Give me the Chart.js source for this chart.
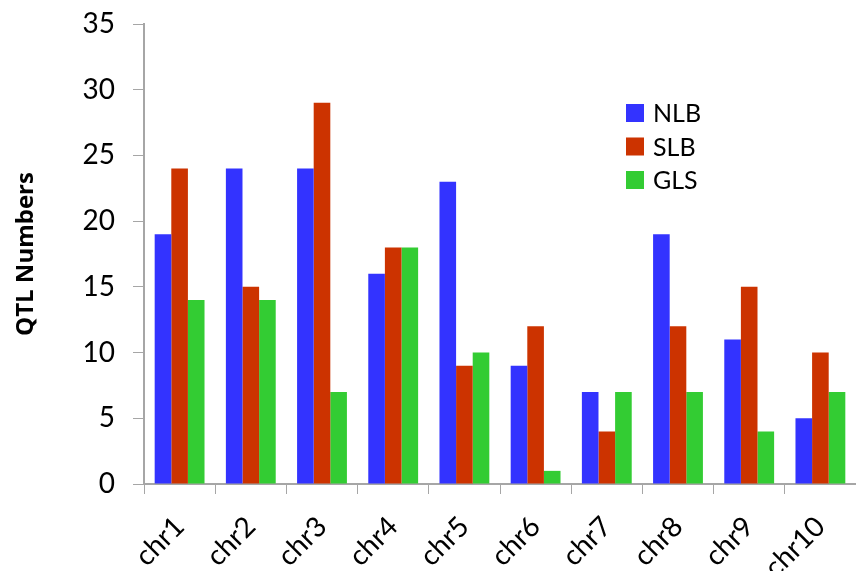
<!DOCTYPE html>
<html>
<head>
<meta charset="utf-8">
<script src="https://cdn.jsdelivr.net/npm/chart.js@4.4.1/dist/chart.umd.min.js"></script>
<style>
  html, body { margin: 0; padding: 0; background: #ffffff; }
  #wrap { width: 856px; height: 571px; position: relative; }
</style>
</head>
<body>
<div id="wrap"><canvas id="chart" width="856" height="571"></canvas></div>
<script>
// QTL counts per chromosome for three leaf diseases
const chromosomes = ['chr1', 'chr2', 'chr3', 'chr4', 'chr5', 'chr6', 'chr7', 'chr8', 'chr9', 'chr10'];
const nlbCounts = [19, 24, 24, 16, 23, 9, 7, 19, 11, 5];
const slbCounts = [24, 15, 29, 18, 9, 12, 4, 12, 15, 10];
const glsCounts = [14, 14, 7, 18, 10, 1, 7, 7, 4, 7];
const yTicks = [0, 5, 10, 15, 20, 25, 30, 35];

const axisGray = '#a6a6a6';

// Legend drawn as a vertical list inside the plot
const insideLegend = {
  id: 'insideLegend',
  afterDraw(chart) {
    const ctx = chart.ctx;
    const x0 = 626, y0 = 113, gap = 33.5, box = 18;
    ctx.save();
    ctx.font = '25px Lato';
    ctx.textBaseline = 'middle';
    ctx.textAlign = 'left';
    chart.data.datasets.forEach((ds, i) => {
      const y = y0 + i * gap;
      ctx.fillStyle = ds.backgroundColor;
      ctx.fillRect(x0, y - box / 2, box, box);
      ctx.fillStyle = '#000000';
      ctx.fillText(ds.label, x0 + 27, y + 1);
    });
    ctx.restore();
  }
};

new Chart(document.getElementById('chart'), {
  type: 'bar',
  data: {
    labels: chromosomes,
    datasets: [
      { label: 'NLB', data: nlbCounts, backgroundColor: '#3333ff' },
      { label: 'SLB', data: slbCounts, backgroundColor: '#cc3300' },
      { label: 'GLS', data: glsCounts, backgroundColor: '#33cc33' }
    ]
  },
  options: {
    responsive: false,
    animation: false,
    devicePixelRatio: 1,
    layout: { padding: { top: 24, right: -4, left: 0, bottom: 0 } },
    datasets: { bar: { categoryPercentage: 0.7, barPercentage: 1.0 } },
    plugins: { legend: { display: false }, tooltip: { enabled: false } },
    scales: {
      x: {
        grid: { display: true, drawOnChartArea: false, drawTicks: true, tickLength: 10, color: axisGray, offset: true },
        border: { display: true, color: axisGray, width: 2 },
        ticks: { color: '#000000', font: { family: 'Lato', size: 28 }, minRotation: 45, maxRotation: 45, padding: 16, autoSkip: false },
        afterFit(scale) { scale.height = 87; scale.paddingLeft = 0; scale.paddingRight = 0; }
      },
      y: {
        min: 0,
        max: 35,
        afterBuildTicks(scale) { scale.ticks = yTicks.map(v => ({ value: v })); },
        grid: { display: true, drawOnChartArea: false, drawTicks: true, tickLength: 11, color: axisGray },
        border: { display: true, color: axisGray, width: 2 },
        ticks: { color: '#000000', font: { family: 'Lato', size: 28 }, padding: 18 },
        title: { display: true, text: 'QTL Numbers', color: '#000000', font: { family: 'Open Sans', size: 24, weight: 'bold' }, padding: { top: 12, bottom: 0 } },
        afterFit(scale) { scale.width = 144; scale.paddingTop = 0; scale.paddingBottom = 0; }
      }
    }
  },
  plugins: [insideLegend]
});
</script>
</body>
</html>
